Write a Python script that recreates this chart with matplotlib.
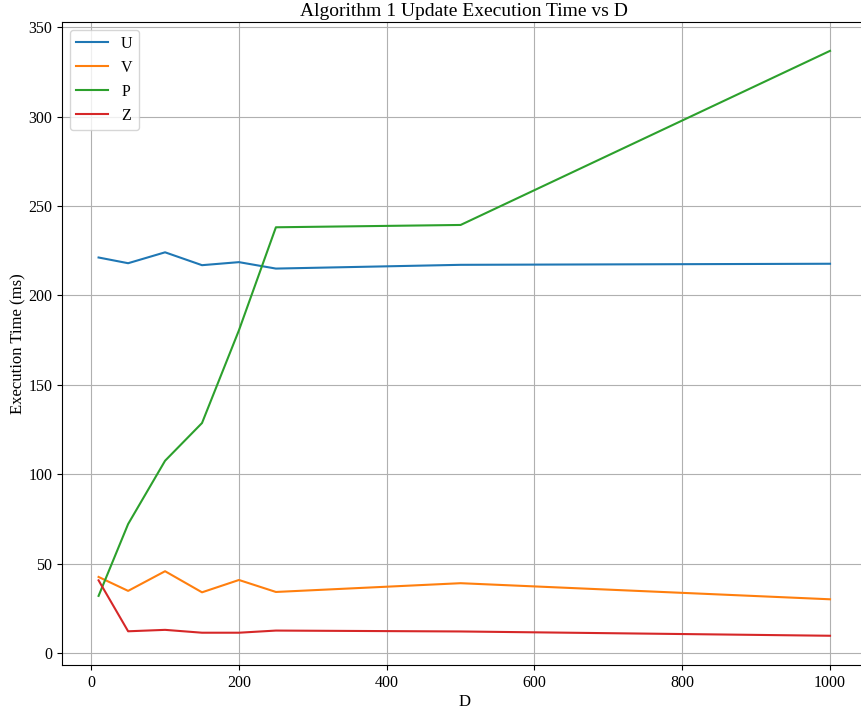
import matplotlib
matplotlib.use('Agg')
import matplotlib.pyplot as plt

# Measured execution times (ms) for each D
D = [10, 50, 100, 150, 200, 250, 500, 1000]
U = [221.2, 218.0, 224.1, 216.9, 218.6, 215.0, 217.1, 217.7]
V = [42.5, 34.7, 45.7, 33.9, 40.8, 34.1, 39.0, 30.0]
P = [31.9, 72.1, 107.5, 128.6, 180.5, 238.1, 239.4, 336.8]
Z = [40.6, 12.1, 12.9, 11.3, 11.3, 12.5, 12.0, 9.6]

plt.rcParams['font.family'] = ['Liberation Serif', 'DejaVu Serif']

fig = plt.figure(figsize=(8.61, 7.09), dpi=100)
ax = fig.add_axes([62 / 861, 1 - 665 / 709, 804.6 / 861, 643.4 / 709])

ax.plot(D, U, label='U')
ax.plot(D, V, label='V')
ax.plot(D, P, label='P')
ax.plot(D, Z, label='Z')

ax.set_title('Algorithm 1 Update Execution Time vs D', fontsize=14, pad=4)
ax.set_xlabel('D', fontsize=12, labelpad=2)
ax.set_ylabel('Execution Time (ms)', fontsize=12, labelpad=1)
ax.tick_params(labelsize=11.5)
ax.grid(True)
ax.legend(loc='upper left', fontsize=11.5)

plt.savefig('out.png', dpi=100)
